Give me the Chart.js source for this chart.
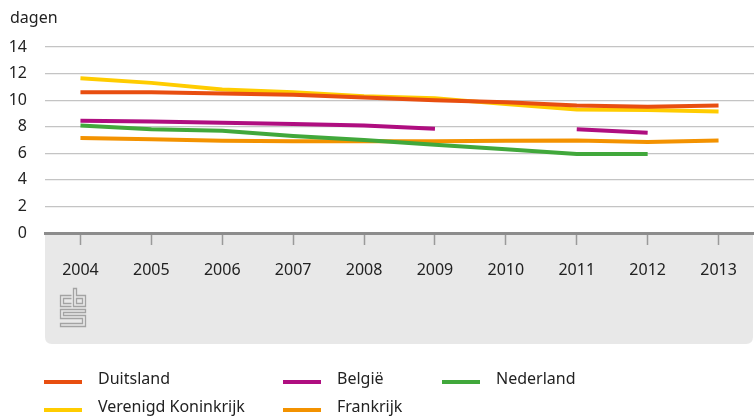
<!DOCTYPE html>
<html>
<head>
<meta charset="utf-8">
<script src="https://cdn.jsdelivr.net/npm/chart.js@4"></script>
<style>
  html, body { margin: 0; padding: 0; background: #ffffff; }
  #wrap { position: relative; width: 754px; height: 416px; }
  canvas { display: block; }
</style>
</head>
<body>
<div id="wrap"><canvas id="c" width="754" height="416"></canvas></div>
<script>
// ---- Data ----
const years = ['2004','2005','2006','2007','2008','2009','2010','2011','2012','2013'];
const duitsland  = [10.6, 10.6, 10.5, 10.4, 10.2, 10.0, 9.85, 9.6, 9.5, 9.6];
const belgie     = [8.45, 8.4, 8.3, 8.2, 8.1, 7.85, null, 7.8, 7.55, null];
const nederland  = [8.1, 7.8, 7.7, 7.3, 7.0, 6.65, 6.3, 5.95, 5.95, null];
const vk         = [11.65, 11.3, 10.8, 10.6, 10.3, 10.15, 9.7, 9.3, 9.25, 9.15];
const frankrijk  = [7.15, 7.05, 6.95, 6.9, 6.9, 6.9, 6.95, 6.97, 6.85, 6.97];
const yTicks     = [0, 2, 4, 6, 8, 10, 12, 14];
const unitLabel  = 'dagen';

const FONT = '"Noto Sans", "Open Sans", sans-serif';

const series = [
  { label: 'Duitsland', data: duitsland, color: '#e84e10' },
  { label: 'België', data: belgie, color: '#af0e80' },
  { label: 'Nederland', data: nederland, color: '#41a83b' },
  { label: 'Verenigd Koninkrijk', data: vk, color: '#ffcc00' },
  { label: 'Frankrijk', data: frankrijk, color: '#f39200' }
];
const drawOrder = { 'Verenigd Koninkrijk': 5, 'Frankrijk': 4, 'Nederland': 3, 'België': 2, 'Duitsland': 1 };

const bandPlugin = {
  id: 'band',
  beforeDraw(chart) {
    const ctx = chart.ctx, a = chart.chartArea;
    const x0 = a.left, x1 = a.right - 1, y0 = a.bottom, y1 = 344, r = 7;
    ctx.save();
    ctx.fillStyle = '#e8e8e8';
    ctx.beginPath();
    ctx.moveTo(x0, y0);
    ctx.lineTo(x1, y0);
    ctx.lineTo(x1, y1 - r);
    ctx.quadraticCurveTo(x1, y1, x1 - r, y1);
    ctx.lineTo(x0 + r, y1);
    ctx.quadraticCurveTo(x0, y1, x0, y1 - r);
    ctx.closePath();
    ctx.fill();
    // logo (cbs) approximation
    ctx.strokeStyle = '#a3a3a3';
    ctx.lineWidth = 1.3;
    const L = 60.5, T = 288.5;
    ctx.beginPath();
    ctx.moveTo(L + 11, T + 7); ctx.lineTo(L, T + 7); ctx.lineTo(L, T + 18); ctx.lineTo(L + 11, T + 18);
    ctx.moveTo(L + 11, T + 10); ctx.lineTo(L + 3, T + 10); ctx.lineTo(L + 3, T + 15); ctx.lineTo(L + 11, T + 15);
    ctx.moveTo(L + 13, T); ctx.lineTo(L + 16, T); ctx.lineTo(L + 16, T + 7); ctx.lineTo(L + 25, T + 7);
    ctx.lineTo(L + 25, T + 18); ctx.lineTo(L + 13, T + 18); ctx.closePath();
    ctx.moveTo(L + 16, T + 10); ctx.lineTo(L + 22, T + 10); ctx.lineTo(L + 22, T + 15); ctx.lineTo(L + 16, T + 15); ctx.closePath();
    ctx.moveTo(L + 25, T + 21); ctx.lineTo(L, T + 21); ctx.lineTo(L, T + 30); ctx.lineTo(L + 22, T + 30);
    ctx.lineTo(L + 22, T + 35); ctx.lineTo(L, T + 35); ctx.lineTo(L, T + 38); ctx.lineTo(L + 25, T + 38);
    ctx.lineTo(L + 25, T + 27); ctx.lineTo(L + 3, T + 27); ctx.lineTo(L + 3, T + 24); ctx.lineTo(L + 25, T + 24); ctx.closePath();
    ctx.stroke();
    ctx.restore();
  },
  afterDraw(chart) {
    const ctx = chart.ctx;
    ctx.save();
    ctx.fillStyle = '#222';
    ctx.font = '16px ' + FONT;
    ctx.textBaseline = 'alphabetic';
    ctx.textAlign = 'left';
    ctx.fillText(unitLabel, 10, 23);
    // legend
    const cols = [44, 283, 442];
    const rows = [380, 408];
    chart.data.datasets.forEach((ds, i) => {
      const x = cols[i % 3], y = rows[Math.floor(i / 3)];
      ctx.fillStyle = ds.borderColor;
      ctx.fillRect(x, y, 38, 4);
      ctx.fillStyle = '#222';
      ctx.textBaseline = 'middle';
      ctx.fillText(ds.label, x + 54, y - 1);
    });
    ctx.restore();
  }
};

new Chart(document.getElementById('c'), {
  type: 'line',
  data: {
    labels: years,
    datasets: series.map(s => ({
      label: s.label,
      data: s.data,
      borderColor: s.color,
      backgroundColor: s.color,
      borderWidth: 4,
      pointRadius: 0,
      pointHoverRadius: 0,
      tension: 0,
      spanGaps: false,
      borderCapStyle: 'butt',
      order: drawOrder[s.label]
    }))
  },
  options: {
    responsive: false,
    animation: false,
    events: [],
    layout: { padding: { top: 47, right: 0, left: 0, bottom: 0 } },
    plugins: { legend: { display: false }, tooltip: { enabled: false } },
    scales: {
      x: {
        type: 'category',
        offset: true,
        grid: { display: true, drawOnChartArea: false, offset: false, drawTicks: true, tickLength: 12, tickColor: '#9a9a9a', tickWidth: 1.5 },
        border: { display: true, color: '#8c8c8c', width: 3 },
        ticks: { color: '#222', font: { family: FONT, size: 16 }, padding: 16, maxRotation: 0, autoSkip: false },
        afterFit(axis) { axis.height = 416 - 233; }
      },
      y: {
        min: 0, max: 14,
        afterBuildTicks(axis) { axis.ticks = yTicks.map(v => ({ value: v })); },
        grid: { color: '#c4c4c4', lineWidth: 1.2, drawTicks: false },
        border: { display: false },
        ticks: { color: '#222', font: { family: FONT, size: 16 }, padding: 18 },
        afterFit(axis) { axis.width = 45; }
      }
    }
  },
  plugins: [bandPlugin]
});
</script>
</body>
</html>
